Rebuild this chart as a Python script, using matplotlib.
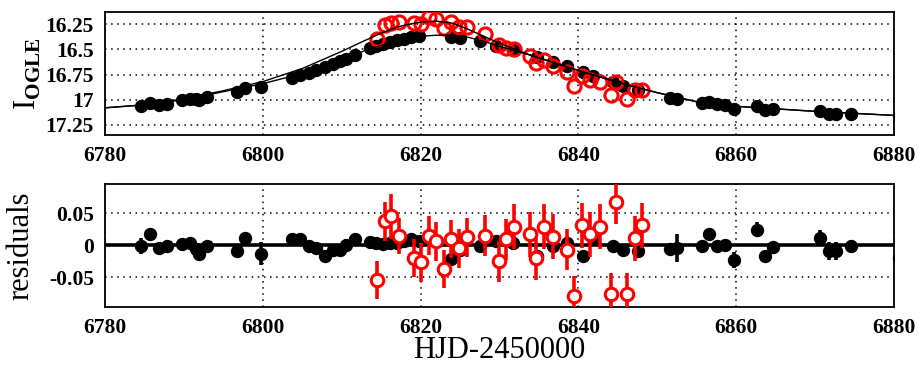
import matplotlib.pyplot as plt

# --- data: OGLE (black) ---
ogle_hjd = [6784.6, 6785.7, 6786.8, 6787.8, 6789.7, 6790.8, 6791.5, 6791.9, 6792.9, 6796.7, 6797.7, 6799.8,
            6803.7, 6804.7, 6805.8, 6806.8, 6807.9, 6808.9, 6809.8, 6810.6, 6811.7, 6813.6, 6814.4, 6815.2,
            6816.1, 6817.0, 6817.9, 6818.8, 6819.8,
            6823.9, 6825.0, 6827.5, 6829.6, 6831.7, 6834.7, 6836.8, 6838.5, 6840.6, 6841.9, 6844.4, 6845.7, 6847.6,
            6851.6, 6852.5, 6855.6, 6856.5, 6857.5, 6858.6, 6859.7, 6862.6, 6863.7, 6864.7, 6870.6, 6871.7,
            6872.7, 6874.6, 6880.6]
ogle_mag = [17.06, 17.03, 17.05, 17.04, 17.00, 16.99, 16.99, 17.00, 16.97, 16.92, 16.885, 16.875,
            16.78, 16.75, 16.73, 16.70, 16.68, 16.65, 16.62, 16.60, 16.56, 16.49, 16.47, 16.45,
            16.43, 16.41, 16.40, 16.38, 16.37,
            16.38, 16.39, 16.42, 16.47, 16.51, 16.58, 16.63, 16.67, 16.72, 16.76, 16.82, 16.86, 16.90,
            16.98, 16.99, 17.03, 17.02, 17.04, 17.05, 17.09, 17.06, 17.105, 17.09, 17.115, 17.14,
            17.14, 17.14, 17.16]
ogle_res = [-0.001, 0.017, -0.005, -0.002, 0.002, 0.003, -0.006, -0.013, -0.002, -0.009, 0.011, -0.013,
            0.009, 0.010, -0.002, -0.004, -0.017, -0.008, -0.007, 0.001, 0.009, 0.005, 0.003, 0.002,
            0.004, 0.003, 0.006, 0.010, 0.006,
            -0.022, -0.007, -0.002, 0.006, 0.004, -0.017, -0.002, 0.004, -0.017, 0.009, -0.002, -0.008, -0.009,
            -0.006, -0.004, -0.002, 0.018, -0.002, 0.001, -0.023, 0.024, -0.017, -0.003, 0.011, -0.009,
            -0.009, -0.002, -0.02]
ogle_err = [0.012, 0.008, 0.008, 0.010, 0.008, 0.008, 0.008, 0.008, 0.008, 0.008, 0.008, 0.018,
            0.008, 0.008, 0.008, 0.008, 0.008, 0.008, 0.008, 0.008, 0.008, 0.008, 0.008, 0.008,
            0.008, 0.008, 0.008, 0.008, 0.008,
            0.010, 0.008, 0.008, 0.008, 0.008, 0.008, 0.008, 0.008, 0.008, 0.008, 0.008, 0.008, 0.010,
            0.008, 0.022, 0.008, 0.008, 0.008, 0.008, 0.012, 0.012, 0.008, 0.008, 0.012, 0.014,
            0.014, 0.010, 0.025]

# --- data: second survey (red) ---
red_hjd = [6814.5, 6815.5, 6816.3, 6817.3, 6819.2, 6820.1, 6821.0, 6822.0, 6823.0, 6823.9,
           6824.9, 6825.9, 6828.2, 6829.9, 6830.8, 6831.8, 6833.8, 6834.6, 6835.6, 6836.8,
           6838.5, 6839.5, 6840.4, 6841.5, 6842.7, 6844.1, 6844.8, 6846.2, 6847.2, 6848.1]
red_mag = [16.40, 16.26, 16.24, 16.23, 16.24, 16.25, 16.18, 16.20, 16.29, 16.23,
           16.28, 16.275, 16.35, 16.46, 16.49, 16.50, 16.57, 16.64, 16.61, 16.67,
           16.72, 16.86, 16.76, 16.80, 16.82, 16.95, 16.82, 16.99, 16.90, 16.90]
red_res = [-0.054, 0.037, 0.045, 0.015, -0.020, -0.027, 0.015, 0.006, -0.037, 0.010,
           -0.005, 0.012, 0.015, -0.025, 0.009, 0.029, 0.017, -0.020, 0.029, 0.013,
           -0.007, -0.080, 0.031, 0.017, 0.029, -0.076, 0.067, -0.076, 0.011, 0.031]
red_err = [0.030, 0.030, 0.035, 0.028, 0.030, 0.030, 0.030, 0.030, 0.030, 0.030,
           0.030, 0.030, 0.032, 0.032, 0.032, 0.035, 0.035, 0.035, 0.035, 0.035,
           0.032, 0.032, 0.035, 0.035, 0.035, 0.032, 0.034, 0.032, 0.035, 0.035]

# --- model curves ---
model_hjd = [6780, 6785, 6790, 6795, 6800, 6805, 6810, 6813, 6815, 6817, 6818, 6820, 6822, 6824,
             6826, 6828, 6830, 6834, 6838, 6840, 6843, 6846, 6850, 6855, 6860, 6865, 6870, 6875, 6880]
model_ogle = [17.08, 17.05, 17.00, 16.92, 16.84, 16.74, 16.61, 16.51, 16.46, 16.42, 16.40, 16.37, 16.36, 16.36,
              16.38, 16.42, 16.47, 16.56, 16.66, 16.71, 16.78, 16.85, 16.93, 17.02, 17.065, 17.09, 17.115, 17.135, 17.155]
model_red = [17.08, 17.05, 16.99, 16.91, 16.82, 16.69, 16.52, 16.41, 16.34, 16.28, 16.26, 16.23, 16.22, 16.24,
             16.30, 16.37, 16.44, 16.56, 16.66, 16.71, 16.78, 16.85, 16.93, 17.02, 17.065, 17.09, 17.115, 17.135, 17.155]

plt.rcParams['font.family'] = 'Liberation Serif'
plt.rcParams['mathtext.fontset'] = 'custom'
plt.rcParams['mathtext.rm'] = 'Liberation Serif'
plt.rcParams['mathtext.bf'] = 'Liberation Serif:bold'

fig = plt.figure(figsize=(9.18, 3.65), dpi=100)
ax1 = fig.add_axes([0.1144, 0.630, 0.8595, 0.337])
ax2 = fig.add_axes([0.1144, 0.158, 0.8595, 0.337])

# top: light curve
ax1.plot(ogle_hjd, ogle_mag, 'o', color='black', ms=8.6, zorder=3)
ax1.plot(red_hjd, red_mag, 'o', mfc='none', mec='red', mew=2.2, ms=9.5, zorder=4)
ax1.plot(model_hjd, model_ogle, '-', color='black', lw=1.0, zorder=5)
ax1.plot(model_hjd, model_red, '-', color='black', lw=1.0, zorder=5)
ax1.set_ylim(17.35, 16.13)
ax1.set_yticks([16.25, 16.5, 16.75, 17, 17.25])
ax1.set_yticklabels(['16.25', '16.5', '16.75', '17', '17.25'])
ax1.set_ylabel(r'$\mathrm{I}_{\mathbf{OGLE}}$', fontsize=22, labelpad=2)

# bottom: residuals
ax2.axhline(0, color='black', lw=2.6, zorder=2)
ax2.errorbar(ogle_hjd, ogle_res, yerr=ogle_err, fmt='o', color='black', ms=8.6,
             elinewidth=2.6, capsize=0, zorder=3)
ax2.errorbar(red_hjd, red_res, yerr=red_err, fmt='o', color='red', mfc='white', mec='red',
             mew=2.2, ms=9.0, elinewidth=2.6, capsize=0, zorder=4)
ax2.set_ylim(-0.097, 0.095)
ax2.set_yticks([-0.05, 0, 0.05])
ax2.set_yticklabels(['-0.05', '0', '0.05'])
ax2.set_ylabel('residuals', fontsize=22, labelpad=10)
ax2.set_xlabel('HJD-2450000', fontsize=22, labelpad=-2)

for ax in (ax1, ax2):
    ax.set_xlim(6780, 6880)
    ax.set_xticks([6780, 6800, 6820, 6840, 6860, 6880])
    ax.grid(True, color='black', linestyle=(0, (1, 3)), lw=1.1)
    ax.set_axisbelow(True)
    ax.tick_params(length=0, pad=8, labelsize=15.5)
    for lab in ax.get_xticklabels() + ax.get_yticklabels():
        lab.set_fontweight('bold')
    for sp in ax.spines.values():
        sp.set_linewidth(1.3)

fig.savefig('out.png', dpi=100)
